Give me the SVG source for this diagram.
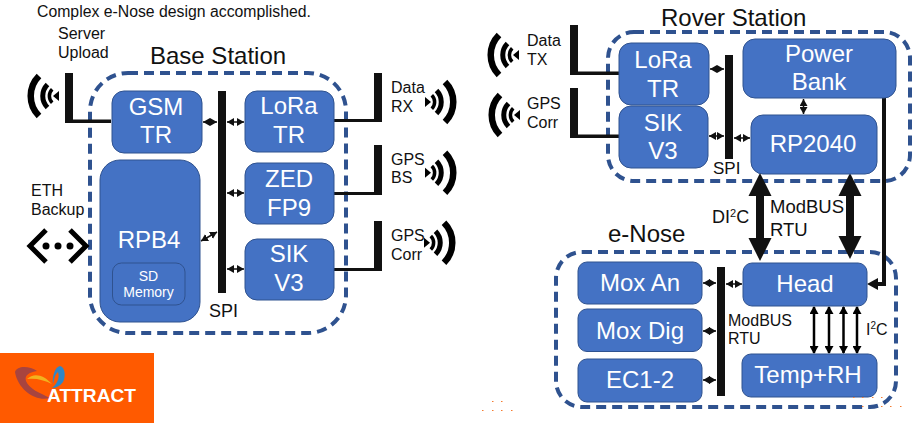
<svg xmlns="http://www.w3.org/2000/svg" width="923" height="423" viewBox="0 0 923 423">
<style>
text{font-family:"Liberation Sans",Arial,sans-serif;fill:#111}
.n{fill:#4472C4;stroke:#2F528F;stroke-width:1}
.w{fill:#fff;font-size:24px;text-anchor:middle}
.l{font-size:16px}
.t{font-size:24px}
.d{fill:none;stroke:#2F528F;stroke-width:4;stroke-dasharray:10 6}
.b{fill:#111}
.s{fill:none;stroke:#111;stroke-width:1.5;marker-start:url(#sm);marker-end:url(#sm)}
.v{fill:none;stroke:#000;stroke-width:2.5;marker-start:url(#vm);marker-end:url(#vm)}
.o{fill:#F47B30}
</style>
<defs>
<marker id="sm" markerUnits="userSpaceOnUse" markerWidth="7" markerHeight="8" refX="7" refY="4" orient="auto-start-reverse"><path d="M0 0L7 4L0 8Z" fill="#111"/></marker>
<marker id="vm" markerUnits="userSpaceOnUse" markerWidth="8" markerHeight="9" refX="7" refY="4.5" orient="auto-start-reverse"><path d="M0 0L8 4.500L0 9Z" fill="#000"/></marker>
<g id="wifi" fill="none" stroke="#000">
<path d="M-6 0L0-5L0 5Z" fill="#000" stroke="none"/>
<path stroke-width="3.500" d="M-6.800-6.800A9.600 9.600 0 0 0-6.800 6.800"/>
<path stroke-width="5" d="M-11.500-11.500A16.300 16.300 0 0 0-11.500 11.500"/>
<path stroke-width="6.500" d="M-20-20A28.300 28.300 0 0 0-20 20"/>
</g>
</defs>

<g id="logo">
<rect x="0" y="353" width="154" height="70" fill="#FF5A00"/>
<path d="M15 372C17 365 30 366 37 371C30 372 24 375 26 381C29 389 40 393 50 398C36 402 18 390 15 372Z" fill="#A8443F"/>
<path d="M27 379C34 372 44 375 52 384C44 380 36 378 27 379Z" fill="#F2B21E"/>
<path d="M53 384C52 376 55 367 60 366C65 367 66 376 63 382C60 386 56 388 52 388C57 384 60 378 58 372C55 374 54 380 53 384Z" fill="#2F86C6"/>
<text x="47" y="402" font-size="18" font-weight="700" style="fill:#fff" textLength="89" lengthAdjust="spacingAndGlyphs">ATTRACT</text>
</g>

<g id="base-station">
<rect class="d" x="90" y="73" width="256" height="260" rx="38"/>
<text class="t" x="150" y="64">Base Station</text>
</g>
<g id="rover-station">
<rect class="d" x="608" y="32" width="302" height="149" rx="26"/>
<text class="t" x="661" y="26">Rover Station</text>
</g>
<g id="enose">
<rect class="d" x="556" y="252" width="340" height="155" rx="26"/>
<text class="t" x="608" y="242">e-Nose</text>
</g>

<g id="captions">
<text x="37" y="17" font-size="15.800px">Complex e-Nose design accomplished.</text>
<text class="l" x="58" y="39">Server</text><text class="l" x="58" y="58">Upload</text>
<text class="l" x="31" y="196">ETH</text><text class="l" x="31" y="215">Backup</text>
<text class="l" x="391" y="93">Data</text><text class="l" x="391" y="112">RX</text>
<text class="l" x="391" y="165">GPS</text><text class="l" x="391" y="183">BS</text>
<text class="l" x="391" y="241">GPS</text><text class="l" x="391" y="260">Corr</text>
<text class="l" x="527" y="46">Data</text><text class="l" x="527" y="65">TX</text>
<text class="l" x="527" y="109">GPS</text><text class="l" x="527" y="128">Corr</text>
<text x="209" y="317" font-size="18px">SPI</text>
<text x="713" y="174" font-size="17px">SPI</text>
<text x="712" y="223" font-size="18px">DI<tspan font-size="11px" dy="-6">2</tspan><tspan dy="6">C</tspan></text>
<text x="770" y="213" font-size="18.500px">ModBUS</text><text x="770" y="236" font-size="18.500px">RTU</text>
<text x="728" y="326" font-size="16px">ModBUS</text><text x="728" y="344" font-size="16px">RTU</text>
<text x="866" y="335" font-size="16px">I<tspan font-size="10px" dy="-6">2</tspan><tspan dy="6">C</tspan></text>
</g>

<g id="connectors">
<rect class="b" x="218" y="91" width="8" height="202"/>
<rect class="b" x="725" y="55" width="8" height="104"/>
<rect class="b" x="717" y="267" width="8" height="129"/>
<path class="b" d="M65 73H73V119.500H111V123H65Z"/>
<path class="b" d="M374 73H382V122H334V119H374Z"/>
<path class="b" d="M374 145H382V195H334V192H374Z"/>
<path class="b" d="M374 221H382V271H334V268H374Z"/>
<path class="b" d="M570 25H578V71.500H619V75H570Z"/>
<path class="b" d="M570 88H578V134.500H619V138H570Z"/>
<path class="s" d="M203 122H217"/><path class="s" d="M227 122H244"/>
<path class="s" d="M227 193H244"/><path class="s" d="M227 269H244"/>
<path class="s" d="M201 241L217 232"/>
<path class="s" d="M710 69H724"/><path class="s" d="M709 136H724"/><path class="s" d="M734 138H750"/>
<path class="s" d="M803.500 99V114"/>
<path class="s" d="M703 283H716"/><path class="s" d="M703 331H716"/><path class="s" d="M703 380H716"/>
<path class="s" d="M726 284H742"/>
<path class="v" d="M814 307V353"/><path class="v" d="M829 307V353"/><path class="v" d="M843.500 307V353"/><path class="v" d="M857 307V353"/>
<path class="b" d="M760 173L771.500 196H764V238H771.500L760 261L748.500 238H756V196H748.500Z"/>
<path class="b" d="M850 173L861.500 196H854V236H861.500L850 259L838.500 236H846V196H838.500Z"/>
<path d="M884 98V284H876" fill="none" stroke="#111" stroke-width="4"/>
<path class="b" d="M867 284L878 278V290Z"/>
</g>

<g id="wifi-icons">
<use href="#wifi" transform="translate(59 96)"/>
<use href="#wifi" transform="translate(425 102) scale(-1 1)"/>
<use href="#wifi" transform="translate(425 172.700) scale(-1 1)"/>
<use href="#wifi" transform="translate(424 242.700) scale(-1 1)"/>
<use href="#wifi" transform="translate(519 55)"/>
<use href="#wifi" transform="translate(520 115)"/>
</g>
<g id="eth-icon">
<path d="M46 230L30 246L46 262M70 230L86 246L70 262" fill="none" stroke="#000" stroke-width="5"/>
<circle cx="46" cy="246" r="3.500"/><circle cx="58" cy="246" r="3.500"/><circle cx="70" cy="246" r="3.500"/>
</g>

<g id="gsm"><rect class="n" x="112" y="91" width="90" height="62" rx="12"/><text class="w" x="156" y="115">GSM</text><text class="w" x="156" y="143">TR</text></g>
<g id="rpb4"><rect class="n" x="100" y="160" width="100" height="162" rx="20"/><text class="w" x="149" y="248">RPB4</text>
<rect x="112.500" y="263" width="72.500" height="42" rx="9" fill="none" stroke="#2F528F"/><text x="148.500" y="281" font-size="14px" text-anchor="middle" style="fill:#fff">SD</text><text x="148.500" y="297" font-size="14px" text-anchor="middle" style="fill:#fff">Memory</text></g>
<g id="lora-base"><rect class="n" x="245" y="91" width="89" height="61" rx="12"/><text class="w" x="289" y="114">LoRa</text><text class="w" x="289" y="143">TR</text></g>
<g id="zed"><rect class="n" x="245" y="163" width="89" height="61" rx="12"/><text class="w" x="289" y="187">ZED</text><text class="w" x="289" y="216">FP9</text></g>
<g id="sik-base"><rect class="n" x="245" y="239" width="89" height="61" rx="12"/><text class="w" x="289" y="262">SIK</text><text class="w" x="289" y="291">V3</text></g>
<g id="lora-rover"><rect class="n" x="619" y="43" width="90" height="62" rx="12"/><text class="w" x="663" y="68">LoRa</text><text class="w" x="663" y="97">TR</text></g>
<g id="sik-rover"><rect class="n" x="619" y="106" width="89" height="62" rx="12"/><text class="w" x="663" y="131">SIK</text><text class="w" x="663" y="159">V3</text></g>
<g id="power"><rect class="n" x="743" y="39" width="153" height="59" rx="12"/><text class="w" x="819" y="62">Power</text><text class="w" x="819" y="90">Bank</text></g>
<g id="rp2040"><rect class="n" x="751" y="115" width="126" height="59" rx="12"/><text class="w" x="813" y="152">RP2040</text></g>
<g id="mox-an"><rect class="n" x="578" y="262" width="124" height="42" rx="9"/><text class="w" x="640" y="291">Mox An</text></g>
<g id="mox-dig"><rect class="n" x="578" y="309" width="124" height="42.500" rx="9"/><text class="w" x="640" y="339">Mox Dig</text></g>
<g id="ec"><rect class="n" x="578" y="359" width="124" height="43" rx="9"/><text class="w" x="640" y="388">EC1-2</text></g>
<g id="head"><rect class="n" x="743" y="263" width="124" height="43" rx="9"/><text class="w" x="805" y="292">Head</text></g>
<g id="temp"><rect class="n" x="742" y="354" width="135" height="43" rx="9"/><text class="w" x="808" y="383">Temp+RH</text></g>

<g id="specks">
<rect class="o" x="492" y="401" width="1.500" height="1"/><rect class="o" x="501" y="401" width="1.500" height="1"/>
<rect class="o" x="482" y="410" width="1.500" height="1"/><rect class="o" x="492" y="410" width="1.500" height="1"/><rect class="o" x="501" y="410" width="1.500" height="1"/><rect class="o" x="511" y="410" width="1.500" height="1"/>
<rect class="o" x="853" y="397" width="1.500" height="1"/><rect class="o" x="862" y="397" width="1.500" height="1"/><rect class="o" x="872" y="397" width="1.500" height="1"/><rect class="o" x="881" y="397" width="1.500" height="1"/>
<rect class="o" x="862" y="406" width="1.500" height="1"/><rect class="o" x="881" y="406" width="1.500" height="1"/><rect class="o" x="890" y="406" width="1.500" height="1"/><rect class="o" x="900" y="406" width="1.500" height="1"/>
</g>
</svg>
